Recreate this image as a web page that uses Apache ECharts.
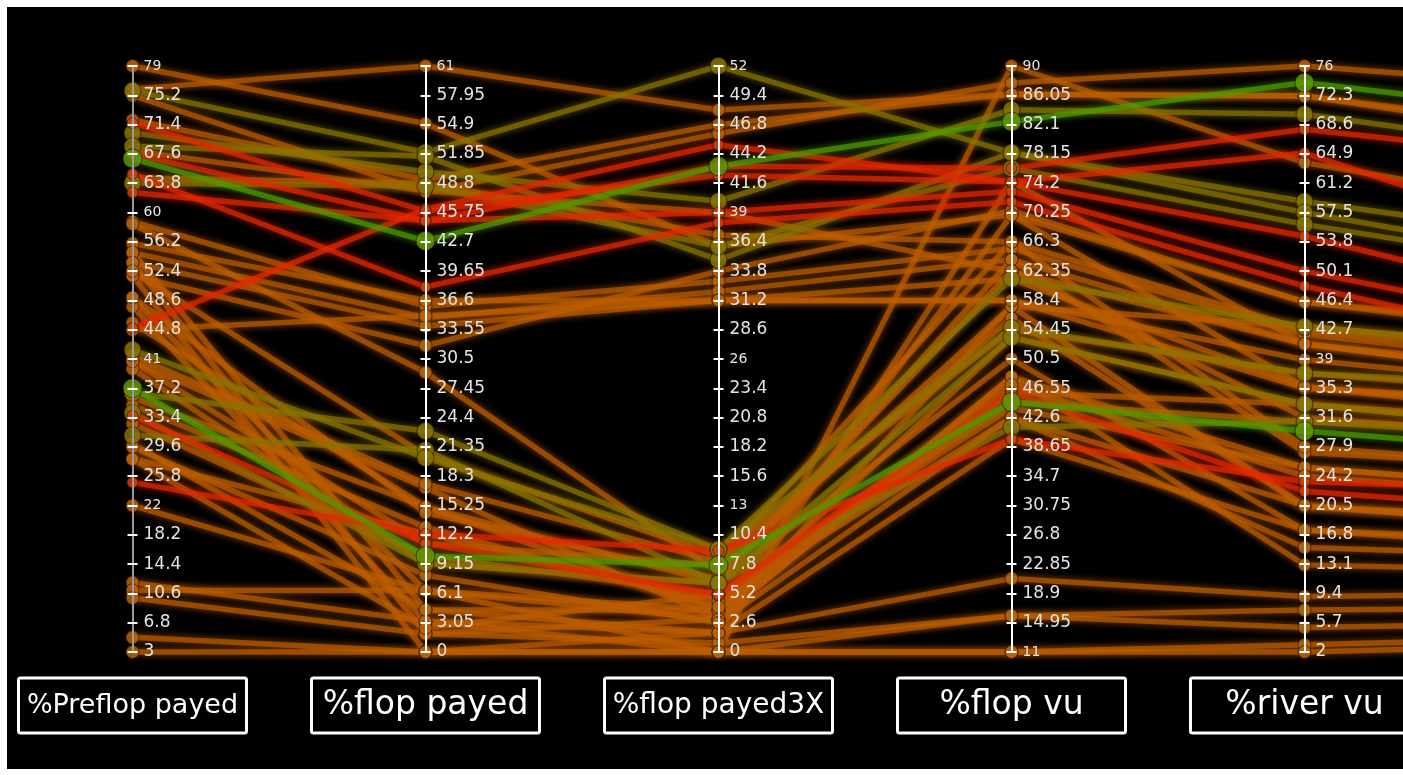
<!DOCTYPE html>
<html><head><meta charset="utf-8">
<script src="https://cdn.jsdelivr.net/npm/echarts@6/dist/echarts.min.js"></script>
<style>
html,body{margin:0;padding:0;width:1403px;height:775px;overflow:hidden;background:#fff;}
#bg{position:absolute;left:7px;top:7px;width:1396px;height:762px;background:#000;}
#chart{position:absolute;left:0;top:0;width:1800px;height:775px;}
</style></head><body><div id="bg"></div><div id="chart"></div>
<script>
const axisNames = ['%Preflop payed', '%flop payed', '%flop payed3X', '%flop vu', '%river vu', '%river payed'];
const axisMin = [3, 0, 0, 11, 2, 0];
const axisMax = [79, 61, 52, 90, 76, 80];
const axisStep = [3.8, 3.05, 2.6, 3.95, 3.7, 4];

const greenLines = [
  [67, 42.8, 43.1, 82.5, 73.9, 73],
  [37.2, 10, 7.7, 44.7, 29.9, 27]
];
const redLines = [
  [67.6, 44.9, 39, 73.1, 50.1, 44],
  [65, 38, 38.1, 71.7, 48.2, 41],
  [62.6, 44.9, 43.1, 76.2, 68, 67],
  [45, 46.1, 45, 74.4, 65, 55],
  [25, 12.3, 9, 39.7, 23.5, 22],
  [33.6, 11.3, 5.1, 46, 22.3, 19],
  [71.6, 45.9, 42.3, 74.4, 54.5, 47]
];
const oliveLines = [
  [75.8, 52, 52, 78.3, 58.9, 56],
  [70.3, 50, 40, 84.1, 69.9, 68],
  [68.6, 51.6, 34.8, 78.3, 57.5, 53],
  [63.8, 48.5, 36, 76.2, 56, 52],
  [36.6, 23, 9.1, 54.7, 37.2, 36],
  [31.1, 21, 6.1, 41.3, 31.1, 29],
  [42.2, 20.2, 9.1, 61.3, 43.1, 41],
  [34, 9.2, 6.1, 53.4, 33.3, 30]
];
const orangeLines = [
  [79, 55, 36, 69.9, 46.2, 43],
  [76, 61, 48.1, 86.2, 72.2, 70],
  [75.2, 47.9, 46, 87.7, 76, 77],
  [72, 49.2, 46.8, 86.2, 72.2, 71],
  [58.8, 36, 32.9, 65.4, 42.1, 39],
  [54.8, 34.8, 32, 63.9, 40.9, 38],
  [53.5, 33.9, 31.2, 61.3, 35.5, 32],
  [51.8, 31.9, 33.8, 70.5, 46.2, 44],
  [68, 48, 39, 62.3, 40.9, 37],
  [64.5, 48.8, 37, 66.3, 42.7, 40],
  [56, 36.6, 31.2, 58.4, 35.3, 34],
  [54.8, 4.4, 3.7, 53.4, 33.3, 30],
  [53.5, 1.9, 2.9, 48.1, 25.3, 22],
  [51.8, 0, 1.7, 74.4, 40.9, 37],
  [48.8, 6.4, 3.7, 69.9, 35.5, 33],
  [47.8, 3.2, 0, 90, 63.8, 60],
  [45.7, 15.1, 6.1, 63.9, 27.2, 25],
  [40.7, 11.3, 7.7, 56, 20.4, 17],
  [39.7, 9.2, 6.1, 50.5, 17.4, 14],
  [32.6, 10, 5.1, 43.9, 25.3, 22],
  [28.1, 12.3, 4.5, 42.6, 15.2, 13],
  [22, 6.4, 2.9, 48.1, 13, 11],
  [12, 3.2, 1.7, 20.9, 9, 8],
  [11, 6.4, 0, 15.9, 7.3, 6],
  [10, 1.9, 0.8, 15.9, 5.1, 4],
  [4.9, 0, 0, 11, 2.9, 2],
  [3, 0, 0, 11, 2, 1],
  [36, 15.1, 3.7, 46, 33.3, 31],
  [40.7, 17.1, 2.9, 57.6, 20.4, 18],
  [30, 4.4, 1.7, 39.7, 17.4, 15],
  [28, 2.5, 5.1, 44.7, 31.1, 30],
  [58.5, 29.1, 7, 57.6, 43.1, 41],
  [41.5, 17.5, 8, 66.3, 27.9, 25],
  [35, 13, 4, 47, 24.2, 21],
  [29.6, 8, 2.6, 42.6, 20.5, 17],
  [49, 14.5, 6.5, 62.35, 31.6, 29],
  [52.4, 20.5, 8.5, 54.45, 37.2, 35],
  [44.8, 35, 31.2, 58.4, 38.9, 36]
];

const nameFontSize = [27, 33, 28, 33, 33, 33];
const axisLeft0 = 132.5, axisSpacing = 293, axisTop = 66, axisHeight = 586;

const groups = [
  {lines: orangeLines, color: 'rgb(188,93,0)', dot: 'rgb(185,98,10)', size: 13},
  {lines: oliveLines, color: 'rgb(138,116,0)', dot: 'rgb(135,115,5)', size: 17},
  {lines: redLines, color: 'rgb(228,40,0)', dot: 'rgb(215,60,10)', size: 11},
  {lines: greenLines, color: 'rgb(80,155,0)', dot: 'rgb(95,150,5)', size: 19}
];

function fmt(v) {
  const n = +(+v).toFixed(2);
  const s = String(n);
  if (Number.isInteger(n) && n >= 10) return '{s|' + s + '}';
  return s;
}

const chart = echarts.init(document.getElementById('chart'), null, {renderer: 'canvas'});

const series = [];
groups.forEach(g => {
  series.push({
    type: 'parallel',
    parallelIndex: 0,
    z: 2,
    silent: true,
    lineStyle: {color: g.color, width: 5.5, opacity: 0.7, shadowBlur: 7, shadowColor: g.color},
    data: g.lines
  });
});
axisNames.forEach((n, i) => {
  const data = [];
  groups.forEach(g => {
    g.lines.forEach(l => {
      data.push({value: [0, l[i]], symbolSize: g.size,
        itemStyle: {color: g.dot, opacity: 0.85, borderColor: 'rgba(40,20,0,0.8)', borderWidth: 1}});
    });
  });
  series.push({type: 'scatter', xAxisIndex: i, yAxisIndex: i, z: 3, silent: true, data: data});
});

chart.setOption({
  animation: false,
  backgroundColor: 'transparent',
  parallel: {left: axisLeft0, top: axisTop, width: axisSpacing * (axisNames.length - 1), height: axisHeight, layout: 'horizontal'},
  parallelAxis: axisNames.map((n, i) => ({
    dim: i, name: '{b|' + n + '}', type: 'value', min: axisMin[i], max: axisMax[i], interval: axisStep[i],
    nameLocation: 'start', nameGap: 26,
    nameTextStyle: {color: '#fff', align: 'center', verticalAlign: 'top', padding: 0,
      rich: {b: {color: '#fff', fontFamily: 'DejaVu Sans', fontSize: nameFontSize[i],
        borderColor: '#fff', borderWidth: 3, borderRadius: 2, width: 228, height: 55, lineHeight: 55,
        align: 'center', verticalAlign: 'middle'}}},
    axisLine: {lineStyle: {color: i === 0 ? '#9a9a9a' : '#ffffff', width: 2}},
    axisTick: {length: 5, lineStyle: {color: '#fff', width: 2}},
    axisLabel: {color: '#e4e4e4', fontFamily: 'DejaVu Sans', fontSize: 17, margin: 11, formatter: fmt,
      rich: {s: {fontSize: 14, color: '#e4e4e4', fontFamily: 'DejaVu Sans'}}},
    splitLine: {show: false},
    z: 10
  })),
  grid: axisNames.map((n, i) => ({left: axisLeft0 + axisSpacing * i, top: axisTop, width: 20, height: axisHeight, show: false})),
  xAxis: axisNames.map((n, i) => ({gridIndex: i, type: 'value', min: 0, max: 1, show: false})),
  yAxis: axisNames.map((n, i) => ({gridIndex: i, type: 'value', min: axisMin[i], max: axisMax[i], interval: axisStep[i],
    position: 'left', axisLine: {show: false}, axisLabel: {show: false}, splitLine: {show: false},
    axisTick: {show: true, length: 5, lineStyle: {color: '#fff', width: 2}}, z: 10})),
  series: series
});
</script></body></html>
